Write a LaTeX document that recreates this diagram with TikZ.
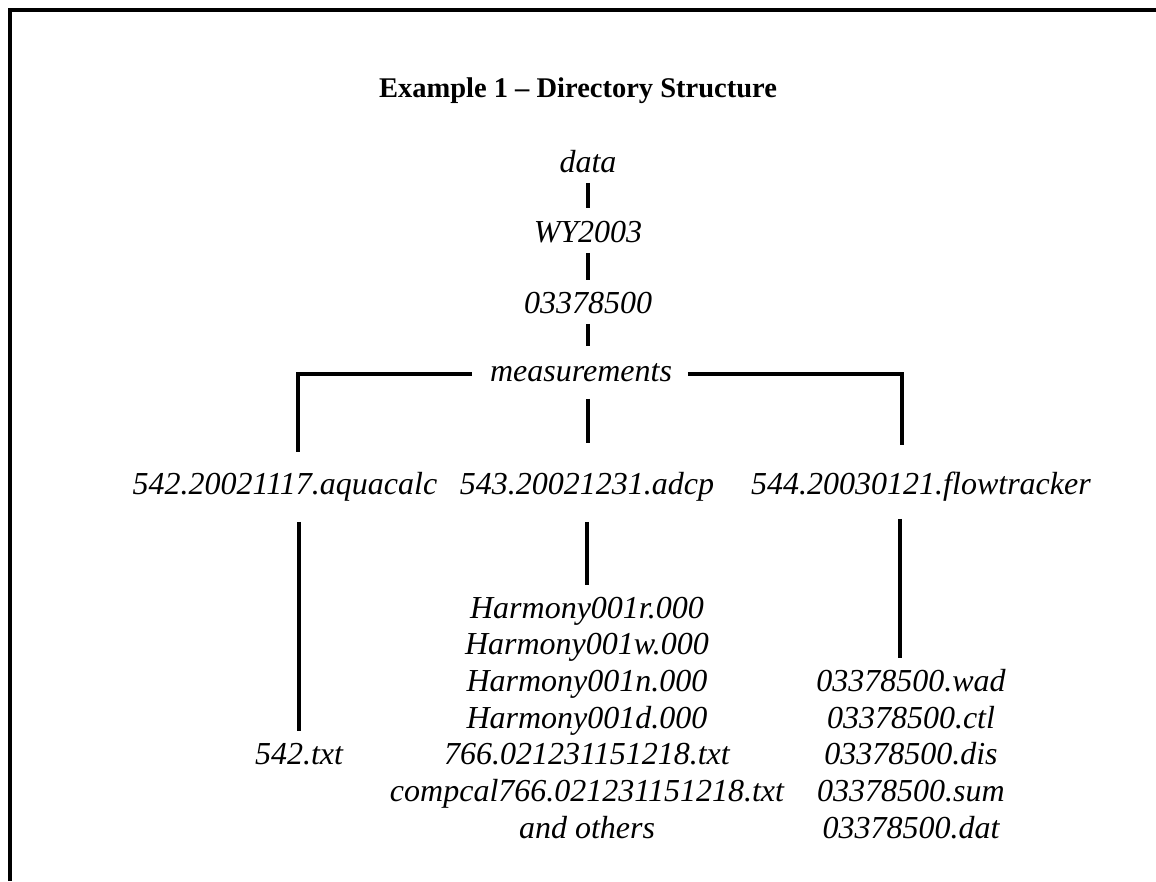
\documentclass[tikz,border=0pt]{standalone}
\usepackage{fontspec}
\setmainfont{Liberation Serif}
\usepackage{tikz}

\begin{document}
\begin{tikzpicture}[x=1pt, y=-1pt, line width=3.8pt]
        \tikzstyle{folder}=[font=\fontsize{32}{37}\selectfont\itshape, anchor=base, inner sep=0pt, text height=23pt, text depth=9pt]
        \tikzstyle{heading}=[font=\fontsize{28.5}{34}\selectfont\bfseries, anchor=base, inner sep=0pt]

        \useasboundingbox (0,0) rectangle (1156,881);

        % Draw the frame
        \draw[line width=4pt] (10,881) -- (10,10) -- (1156,10);

        % Draw the title
        \node[heading] (title) at (578,97) {Example 1 -- Directory Structure};

        % Draw the top folders
        \node[folder] (data) at (588,172) {data};
        \node[folder] (wy) at (588,242) {WY2003};
        \node[folder] (station) at (588,313) {03378500};
        \node[folder] (meas) at (581,381) {measurements};

        % Draw the measurement folders
        \node[folder] (aqua) at (285,494) {542.20021117.aquacalc};
        \node[folder] (adcp) at (587,494) {543.20021231.adcp};
        \node[folder] (flow) at (921,494) {544.20030121.flowtracker};
        \coordinate (aqua-top) at (298,452);
        \coordinate (flow-top) at (902,445);

        % Draw the files of each measurement
        \node[folder] (aqua-1) at (299,764) {542.txt};
        \foreach \name [count=\i] in {Harmony001r.000, Harmony001w.000, Harmony001n.000, Harmony001d.000, 766.021231151218.txt, compcal766.021231151218.txt, and others}
            \node[folder] (adcp-\i) at (587,{618+36.7*(\i-1)}) {\name};
        \foreach \ext [count=\i] in {wad, ctl, dis, sum, dat}
            \node[folder] (flow-\i) at (911,{691.4+36.7*(\i-1)}) {03378500.\ext};

        % Connect the top folders
        \draw[shorten >=9pt] (data) -- (wy);
        \draw[shorten >=8pt] (wy) -- (station);
        \draw[shorten >=10pt] (station) -- (station |- meas.north);

        % Connect measurements with its folders
        \draw[shorten <=7pt, shorten >=26pt] (meas.south -| data) -- (adcp.north -| data);
        \draw ([xshift=-16pt]meas.west) -| (aqua-top);
        \draw ([xshift=14pt]meas.east) -| (flow-top);

        % Connect every folder with its files
        \draw[shorten <=17pt, shorten >=8pt] (aqua.south -| aqua-1) -- (aqua-1.north);
        \draw[shorten <=17pt, shorten >=8pt] (adcp.south -| adcp-1) -- (adcp-1.north);
        \draw[shorten <=14pt, shorten >=9pt] ([xshift=-11pt]flow-1.north |- flow.south) -- ([xshift=-11pt]flow-1.north);
    \end{tikzpicture}
\end{document}
